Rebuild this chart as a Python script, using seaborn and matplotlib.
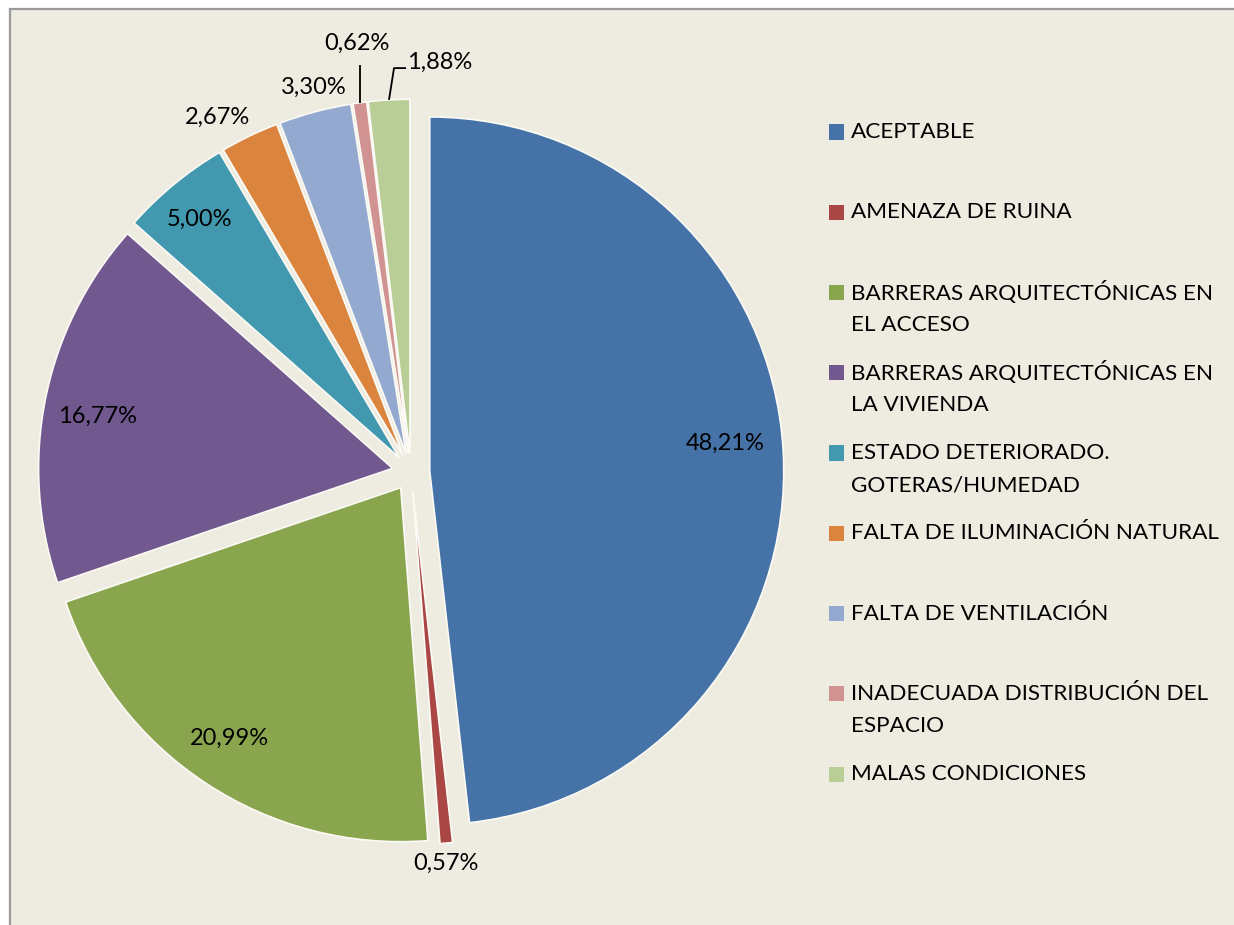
import numpy as np
import matplotlib
matplotlib.use("Agg")
import matplotlib.pyplot as plt
from matplotlib.patches import Rectangle
import seaborn as sns

categories = [
    "ACEPTABLE",
    "AMENAZA DE RUINA",
    "BARRERAS ARQUITECTÓNICAS EN\nEL ACCESO",
    "BARRERAS ARQUITECTÓNICAS EN\nLA VIVIENDA",
    "ESTADO DETERIORADO.\nGOTERAS/HUMEDAD",
    "FALTA DE ILUMINACIÓN NATURAL",
    "FALTA DE VENTILACIÓN",
    "INADECUADA DISTRIBUCIÓN DEL\nESPACIO",
    "MALAS CONDICIONES",
]
values = [48.21, 0.57, 20.99, 16.77, 5.00, 2.67, 3.30, 0.62, 1.88]
colors = ["#4572A7", "#AA4643", "#89A54E", "#71588F", "#4198AF",
          "#DB843D", "#93A9CF", "#D19392", "#B9CD96"]

# layout: label distance (in radii, from pie centre) and angle tweak (deg)
label_dist = [0.89, 1.11, 0.91, 0.90, 0.93, 1.14, 1.12, 1.22, 1.16]
label_dang = [2.0, -0.3, -1.0, 1.3, 0.4, 2.9, -0.8, -0.7, -7.4]

sns.set_theme(style="white")
FONT = ["Lato", "DejaVu Sans"]
plt.rcParams["font.family"] = FONT

BG = "#EEECE1"
W, H = 1234, 925
fig = plt.figure(figsize=(W / 100, H / 100), dpi=100)
fig.patch.set_facecolor("white")

# chart area frame (only top/left edges visible)
fig.patches.append(Rectangle((10 / W, -0.1), 1.2, (H - 9) / H + 0.1,
                             transform=fig.transFigure, facecolor=BG,
                             edgecolor="#9A9A9A", linewidth=1.6, zorder=-5))

cx, cy, R = 411, 472, 354
half = 407
ax = fig.add_axes([(cx - half) / W, (H - cy - half) / H, 2 * half / W, 2 * half / H])
ax.set_facecolor("none")
ax.set_zorder(2)

wedges, _ = ax.pie(values, colors=colors, startangle=90, counterclock=False,
                   explode=[0.053] * len(values),
                   wedgeprops=dict(edgecolor="#FBFAF5", linewidth=1.2))
L = half / R
ax.set_xlim(-L, L)
ax.set_ylim(-L, L)
ax.set_aspect("equal")
ax.axis("off")

FS = 16.2
FS_PCT = 17
for i, (w, v) in enumerate(zip(wedges, values)):
    mid = np.deg2rad((w.theta1 + w.theta2) / 2 + label_dang[i])
    d = label_dist[i]
    txt = f"{v:.2f}%".replace(".", ",")
    ax.text(d * np.cos(mid), d * np.sin(mid), txt, ha="center", va="center",
            fontsize=FS_PCT, color="black")

# leader lines for the small slices at top
for i, pts in [(7, [(None, 1.169)]), (8, [(-0.048, 1.141), (-0.014, 1.141)])]:
    w = wedges[i]
    m = np.deg2rad((w.theta1 + w.theta2) / 2)
    x0 = w.center[0] + np.cos(m)
    y0 = w.center[1] + np.sin(m)
    xs, ys = [x0], [y0]
    for px, py in pts:
        xs.append(x0 if px is None else px)
        ys.append(py)
    ax.plot(xs, ys, color="black", linewidth=1.3, solid_capstyle="butt")

# legend
y0, step, lstep = 132, 80.25, 32.5
for i, (lab, col) in enumerate(zip(categories, colors)):
    y = y0 + i * step
    fig.patches.append(Rectangle((829 / W, (H - y - 7.5) / H), 15 / W, 15 / H,
                                 transform=fig.transFigure, facecolor=col,
                                 edgecolor="none", zorder=3))
    for k, line in enumerate(lab.split("\n")):
        fig.text(851 / W, (H - y - k * lstep) / H, line, ha="left",
                 va="center", fontsize=FS, color="black")

fig.savefig("out.png", dpi=100, facecolor="white")
